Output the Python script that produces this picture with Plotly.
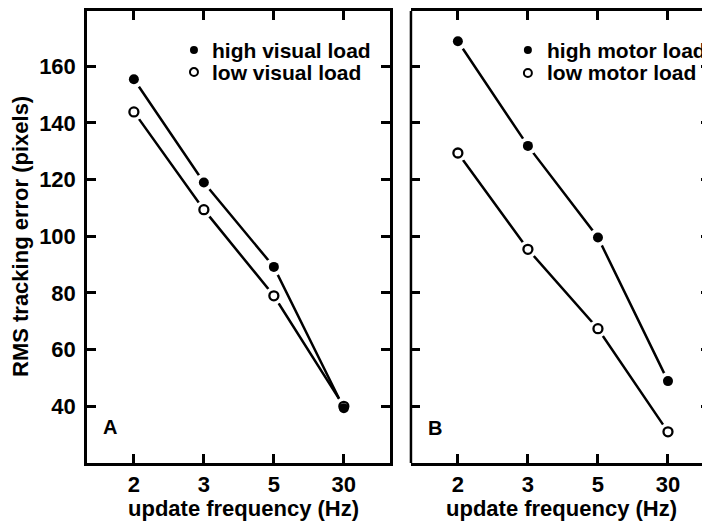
import plotly.graph_objects as go

# ---- data ----
freq_labels = ["2", "3", "5", "30"]
high_visual = [155.4, 119.0, 89.2, 39.3]
low_visual = [143.9, 109.4, 79.0, 40.0]
high_motor = [168.8, 131.9, 99.6, 48.9]
low_motor = [129.4, 95.4, 67.4, 31.0]
y_ticks = [40, 60, 80, 100, 120, 140, 160]

FONT = "Liberation Sans, Arial, Helvetica, sans-serif"
LW = 2.5

fig = go.Figure()

def add_panel(xa, ya, series_list):
    for ys in series_list:
        fig.add_trace(go.Scatter(x=freq_labels, y=ys, mode="lines",
                                 line=dict(color="black", width=LW),
                                 xaxis=xa, yaxis=ya, showlegend=False, hoverinfo="skip"))
    # white halos to create gaps near markers
    for ys in series_list:
        fig.add_trace(go.Scatter(x=freq_labels, y=ys, mode="markers",
                                 marker=dict(size=18, color="white", line=dict(width=0)),
                                 xaxis=xa, yaxis=ya, showlegend=False, hoverinfo="skip"))

def add_markers(xa, ya, ys, filled):
    fig.add_trace(go.Scatter(x=freq_labels, y=ys, mode="markers",
                             marker=dict(size=10 if filled else 9,
                                         color="black" if filled else "white",
                                         line=dict(color="black", width=0 if filled else 2.3)),
                             xaxis=xa, yaxis=ya, showlegend=False))

add_panel("x", "y", [high_visual, low_visual])
add_markers("x", "y", low_visual, False)
add_markers("x", "y", high_visual, True)

add_panel("x2", "y2", [high_motor, low_motor])
add_markers("x2", "y2", low_motor, False)
add_markers("x2", "y2", high_motor, True)

axis_common = dict(ticks="inside", ticklen=9, tickwidth=LW, tickcolor="black",
                   showgrid=False, zeroline=False, linecolor="black", linewidth=LW,
                   tickfont=dict(size=22))

yrange = [20, 179.5]

# page body has an 8px margin: figure is sized so it fills the 710x521 window
fig.update_layout(
    width=702, height=513,
    margin=dict(l=79, r=0, t=3, b=58),
    paper_bgcolor="white", plot_bgcolor="white",
    font=dict(family=FONT, size=21, color="black", weight="bold"),
    showlegend=False,
    xaxis=dict(domain=[0, 0.4864], type="category", range=[-0.67, 3.66],
               showline=True, mirror="ticks", anchor="y",
               categoryorder="array", categoryarray=freq_labels, **axis_common),
    yaxis=dict(domain=[0, 1], range=yrange, tickvals=y_ticks,
               showline=True, mirror="ticks", anchor="x", ticklabelstandoff=4, **axis_common),
    xaxis2=dict(domain=[0.520, 1.0], type="category", range=[-0.67, 3.60],
                showline=True, mirror="ticks", anchor="y2",
                categoryorder="array", categoryarray=freq_labels, **axis_common),
    yaxis2=dict(domain=[0, 1], range=yrange, tickvals=y_ticks, showticklabels=False,
                showline=False, mirror="ticks", anchor="x2", **axis_common),
)

fig.add_shape(type="line", xref="x2 domain", yref="y2 domain", x0=0, x1=0, y0=0, y1=1,
              line=dict(color="black", width=LW))

def legend(xref, yref, xc, xt, entries):
    for (yc, filled, label) in entries:
        fig.add_shape(type="circle", xref=xref, yref=yref,
                      xsizemode="pixel", ysizemode="pixel", xanchor=xc, yanchor=yc,
                      x0=-4, x1=4, y0=-4, y1=4,
                      fillcolor="black" if filled else "white",
                      line=dict(color="black", width=0 if filled else 2))
        fig.add_annotation(xref=xref, yref=yref, x=xt, y=yc, text=label,
                           showarrow=False, xanchor="left", yanchor="middle",
                           font=dict(size=21))

legend("x domain", "y domain", 0.353, 0.406,
       [(0.9137, True, "high visual load"), (0.865, False, "low visual load")])
legend("x2 domain", "y2 domain", 0.391, 0.448,
       [(0.9137, True, "high motor load"), (0.863, False, "low motor load")])

fig.add_annotation(xref="paper", yref="paper", x=(110 - 87) / 623, y=(463 - 427) / 452,
                   text="A", showarrow=False, xanchor="center", yanchor="middle", font=dict(size=20))
fig.add_annotation(xref="paper", yref="paper", x=(435 - 87) / 623, y=(463 - 428) / 452,
                   text="B", showarrow=False, xanchor="center", yanchor="middle", font=dict(size=20))

for xr, xc in [("x domain", 0.515), ("x2 domain", 0.502)]:
    fig.add_annotation(xref=xr, yref="paper", x=xc, y=(463 - 508) / 452,
                       text="update frequency (Hz)", showarrow=False,
                       xanchor="center", yanchor="middle", font=dict(size=22))
fig.add_annotation(xref="paper", yref="paper", x=(20 - 87) / 623, y=(463 - 237) / 452,
                   text="RMS tracking error (pixels)", textangle=-90, showarrow=False,
                   xanchor="center", yanchor="middle", font=dict(size=22))

fig.write_html("out.html")
